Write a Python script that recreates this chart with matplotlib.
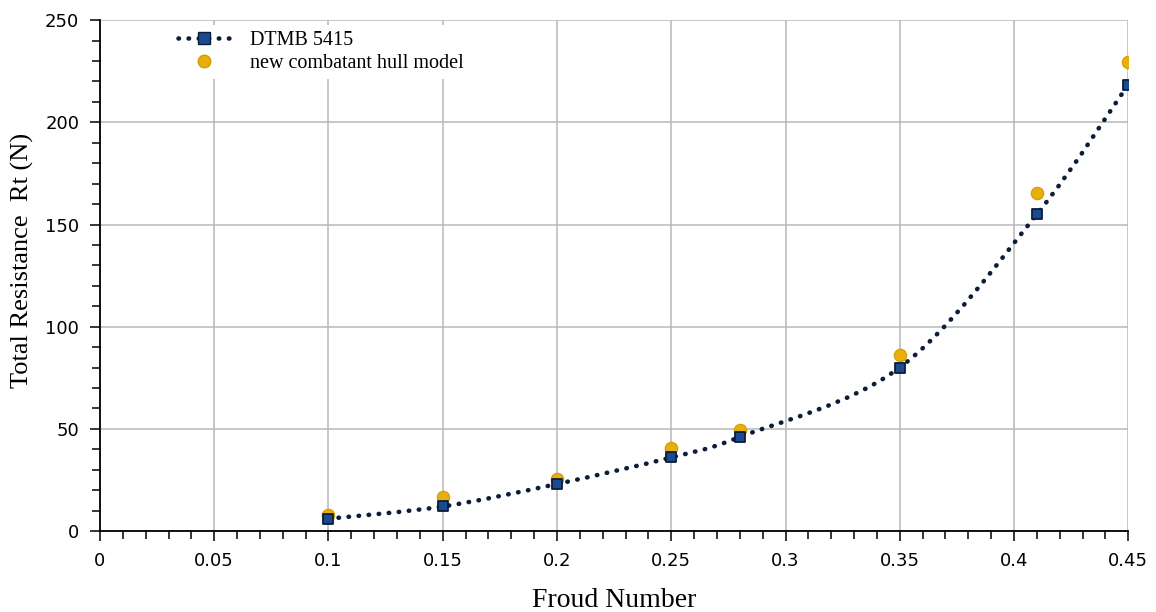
import numpy as np
import matplotlib.pyplot as plt
from matplotlib.path import Path
from matplotlib.patches import PathPatch
from matplotlib.lines import Line2D
from matplotlib.ticker import MultipleLocator

froude = [0.10, 0.15, 0.20, 0.25, 0.28, 0.35, 0.41, 0.45]
rt_dtmb = [6.0, 12.0, 23.0, 36.0, 46.0, 80.0, 155.0, 218.5]
rt_new = [8.0, 16.5, 25.5, 40.5, 49.5, 86.0, 165.5, 229.5]

navy = "#0b1d3a"
blue = "#1a4a8f"
gold = "#e8ae0c"
dots = (0, (0.1, 2.1))


def smooth_path(xs, ys, tension=1 / 6):
    # catmull-rom style bezier through the points (like a spreadsheet smoothed line)
    pts = np.column_stack([xs, ys])
    verts = [pts[0]]
    codes = [Path.MOVETO]
    n = len(pts)
    for i in range(n - 1):
        p0 = pts[i - 1] if i > 0 else pts[i]
        p1 = pts[i]
        p2 = pts[i + 1]
        p3 = pts[i + 2] if i + 2 < n else pts[i + 1]
        c1 = p1 + (p2 - p0) * tension
        c2 = p2 - (p3 - p1) * tension
        verts += [c1, c2, p2]
        codes += [Path.CURVE4] * 3
    return Path(verts, codes)


fig = plt.figure(figsize=(11.56, 6.12), dpi=100)
ax = fig.add_axes([0.0865, 0.1324, 0.8895, 0.8346])

curve = PathPatch(smooth_path(froude, rt_dtmb), fill=False, edgecolor=navy,
                  linewidth=3.3, linestyle=dots, capstyle="round", zorder=3)
ax.add_patch(curve)
ax.scatter(froude, rt_new, s=80, color=gold, edgecolors="#d49a00", linewidths=0.8, zorder=4)
ax.scatter(froude, rt_dtmb, s=62, marker="s", color=blue, edgecolors=navy, linewidths=1.3, zorder=5)

ax.set_xlim(0, 0.45)
ax.set_ylim(0, 250)
ax.xaxis.set_minor_locator(MultipleLocator(0.01))
ax.yaxis.set_major_locator(MultipleLocator(50))
ax.yaxis.set_minor_locator(MultipleLocator(10))
ax.set_xticks(np.arange(0, 0.451, 0.05))
ax.set_xticklabels(["0", "0.05", "0.1", "0.15", "0.2", "0.25", "0.3", "0.35", "0.4", "0.45"])
ax.grid(True, which="major", color="#b8b8b8", linewidth=1.1)
ax.set_axisbelow(True)

for side in ["top", "right"]:
    ax.spines[side].set_visible(False)
for side in ["left", "bottom"]:
    ax.spines[side].set_color("black")
    ax.spines[side].set_linewidth(1.3)

ax.tick_params(which="both", direction="out", color="black", width=1.1)
ax.tick_params(which="major", length=7, labelsize=13, pad=8)
ax.tick_params(which="minor", length=6)
for lbl in ax.get_xticklabels() + ax.get_yticklabels():
    lbl.set_family("DejaVu Sans")

ax.set_xlabel("Froud Number", family="Liberation Serif", fontsize=20, labelpad=13)
ax.set_ylabel("Total Resistance  Rt (N)", family="Liberation Serif", fontsize=19, labelpad=8)
ax.yaxis.label.set_y(0.53)

h1 = Line2D([], [], color=navy, linewidth=3.3, linestyle=dots, dash_capstyle="round",
            marker="s", markersize=8, markerfacecolor=blue, markeredgecolor=navy)
h2 = Line2D([], [], linestyle="none", marker="o", markersize=9,
            markerfacecolor=gold, markeredgecolor="#d49a00")
leg = ax.legend([h1, h2], ["DTMB 5415", "new combatant hull model"],
                loc="upper left", bbox_to_anchor=(0.06, 1.01), frameon=True,
                prop={"family": "Liberation Serif", "size": 14.5},
                handlelength=2.6, handletextpad=1.0, labelspacing=0.2, borderpad=0.3)
leg.get_frame().set_facecolor("white")
leg.get_frame().set_edgecolor("none")
leg.get_frame().set_alpha(1)

fig.savefig("out.png", dpi=100)
